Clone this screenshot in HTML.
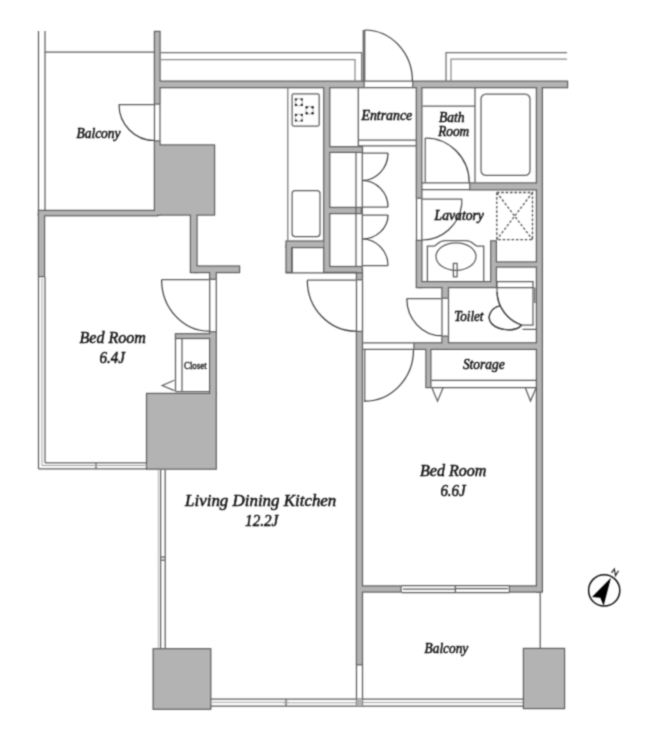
<!DOCTYPE html>
<html><head><meta charset="utf-8"><style>
html,body{margin:0;padding:0;background:#fff;}
svg{display:block;will-change:transform;}

text{font-family:"Liberation Serif",serif;}
.lb{font-style:italic;font-size:15px;fill:#111;stroke:#111;stroke-width:0.55;}
.lg{font-style:italic;font-size:16.5px;fill:#111;stroke:#111;stroke-width:0.5;}
.ln{stroke:#5e5e5e;stroke-width:1.25;fill:none;}
.lt{stroke:#8a8a8a;stroke-width:1;fill:none;}
</style></head><body>
<div class="bl"><svg width="646" height="745" viewBox="0 0 646 745">
<defs><filter id="bf" filterUnits="userSpaceOnUse" x="0" y="0" width="646" height="745" color-interpolation-filters="sRGB"><feConvolveMatrix order="3" kernelMatrix="0.0400 0.1200 0.0400 0.1200 0.3600 0.1200 0.0400 0.1200 0.0400" edgeMode="duplicate" preserveAlpha="false"/></filter>
<g id="W">
<!-- left balcony divider + block -->
<rect x="155" y="32" width="4.5" height="71.5"/>
<rect x="155" y="141.5" width="4.5" height="73"/>
<rect x="158" y="145.5" width="56" height="69"/>
<!-- balcony bottom wall -->
<rect x="39" y="211" width="118" height="4.2"/>
<rect x="39" y="214" width="5" height="62"/>
<!-- mid vertical + horiz -->
<rect x="191" y="214" width="5.5" height="58"/>
<rect x="195" y="266.6" width="44" height="5.4"/>
<rect x="210.2" y="270" width="5.5" height="8.7"/>
<rect x="210.2" y="332.4" width="5.5" height="62"/>
<rect x="176" y="334.3" width="36" height="3.6"/>
<rect x="147.1" y="394" width="68.6" height="74.6"/>
<rect x="153.7" y="649.3" width="56.5" height="59.4"/>
<!-- top wall -->
<rect x="159" y="81.7" width="204.5" height="5.4"/>
<rect x="413.4" y="81.7" width="153.6" height="5.4"/>
<!-- kitchen/closet vertical -->
<rect x="324.3" y="86" width="4.9" height="185.8"/>
<rect x="329" y="147.3" width="32.9" height="4.5"/>
<rect x="329" y="208" width="31.7" height="5"/>
<rect x="329" y="267.1" width="32.6" height="4.7"/>
<!-- U near kitchen -->
<rect x="286.6" y="241.6" width="37" height="5.4"/>
<rect x="286.6" y="246" width="4.5" height="25.8"/>
<!-- LDK right wall -->
<rect x="357" y="270" width="4.9" height="9.2"/>
<rect x="357" y="332" width="4.9" height="332.2"/>
<!-- bed2 top wall (toilet/storage bottom) -->
<rect x="414.5" y="343.4" width="124" height="5.4"/>
<rect x="426.5" y="347" width="3.8" height="40"/>
<!-- right wall -->
<rect x="537" y="86" width="4.8" height="505.5"/>
<!-- bed2 bottom wall -->
<rect x="361" y="586.5" width="39.5" height="5"/>
<rect x="510" y="586.5" width="28" height="5"/>
<rect x="524" y="649" width="40" height="59"/>
<!-- entrance right / lavatory left -->
<rect x="416.9" y="86" width="4.4" height="111.6"/>
<rect x="416.9" y="241" width="4.4" height="46"/>
<!-- bath bottom -->
<rect x="470.4" y="183.5" width="67.5" height="5.8"/>
<!-- lavatory bottom -->
<rect x="419" y="282.2" width="76.8" height="4.8"/>
<rect x="491.3" y="241.4" width="4.5" height="45"/>
<rect x="494" y="262.5" width="44" height="4"/>
<!-- toilet left wall -->
<rect x="442.5" y="286" width="5.4" height="11.6"/>
<rect x="442.5" y="336.7" width="5.4" height="8"/>
</g>
</defs>
<g filter="url(#bf)">
<rect x="-5" y="-5" width="656" height="755" fill="#fff"/>
<use href="#W" fill="#b3b3b3" stroke="#5e5e5e" stroke-width="2.4"/>
<use href="#W" fill="#b3b3b3" stroke="none"/>

<!-- ===== thin lines ===== -->
<g class="ln">
<!-- top-left balcony -->
<path d="M38.5 31V211 M45 31V211 M45 52H155"/>
<!-- railing top -->
<path d="M160.5 52.5H361.7V81 M446 81V52.7H567" stroke="#707070"/>
<path d="M160.5 59.5H355V81 M451 81V59.2H567" stroke="#8c8c8c"/>
<!-- balcony door -->
<path d="M119 104.5H154.5"/>
<path d="M154.5 104.5V140.5 M160 104.5V140.5"/>
<!-- entrance door -->
<path d="M363.3 30V81 M364.7 30V81"/>
<path d="M364.5 81H412.4 M364.5 87.5H412.4"/>
<!-- kitchen -->
<path d="M287.8 88V241" stroke="#7a7a7a"/>
<rect x="292.1" y="93.9" width="27.1" height="32.2" rx="1.5"/>
<rect x="292.1" y="190.6" width="27.9" height="46" rx="3"/>
<!-- entrance -->
<path d="M358.3 88V146 M358.3 140H416 M358.3 145.8H416"/>
<!-- closets -->
<path d="M356 153V266 M362.3 153V266"/>
<path d="M362.3 153H388 M362.3 207H388"/>
<path d="M362.3 215H388 M362.3 265.6H388"/>
<!-- U inner box + bottom line -->
<path d="M292.1 248V272.8 M285.6 272.8H361.9"/>
<!-- LDK door -->
<path d="M307.3 280.2H356"/>
<path d="M356.5 280.2V331.5 M362.5 280.2V331.5"/>
<!-- bed1 door -->
<path d="M161.6 279.7H209.5"/>
<path d="M209.7 279.7V332 M216.3 279.7V332"/>
<!-- bed1 closet -->
<path d="M175.5 338.9V391.5 M182 338.9V391.5 M175.5 391.5H210"/>
<path d="M174.4 380.3L162.2 385.5L174.4 390.6"/>
<!-- bed1 windows -->
<path d="M38.5 277V468.8 M45 277V462.8 M38.5 468.8H147 M45 462.8H147 M96 462.8V468.8"/>
<path d="M42 278V465.5H147" stroke="#a0a0a0" stroke-width="1"/>
<!-- LDK left window -->
<path d="M160.6 469.8V648.5 M165.2 469.8V648.5 M160.6 557H165.2 M160.6 560H165.2"/>
<path d="M158.3 470V648" stroke="#b0b0b0" stroke-width="1"/>
<!-- LDK bottom window -->
<path d="M211 699H523.5 M211 706H523.5 M286 699V706"/>
<path d="M212 702.3H289 M283 702.8H356 M363 702.5H523" stroke="#a0a0a0" stroke-width="1"/>
<path d="M356.5 665V706 M362.5 665V706"/>
<!-- bath -->
<path d="M422.6 106H475 M475 88V182.5"/>
<rect x="481" y="94" width="49" height="81.4" rx="5"/>
<path d="M425.2 138V182.5"/>
<path d="M422 182.8H470 M422 189.5H470"/>
<!-- lavatory door -->
<path d="M422.3 199H461.7V205"/>
<path d="M416.5 198.6V241 M421.8 198.6V241"/>
<!-- vanity -->
<path d="M427.4 281.4V246.1H433.6C437 246.1 438 240.5 445 240.5H466C473 240.5 474 246.1 477.5 246.1H483.7V281.4"/>
<ellipse cx="456" cy="256.6" rx="20" ry="13.8"/>
<rect x="453.4" y="263.4" width="3.7" height="13.4"/>
<!-- washer dashed -->
<g stroke-dasharray="2.6 1.8" stroke="#505050" stroke-width="1.3"><rect x="496.8" y="192.5" width="35.7" height="47.1"/><path d="M496.8 192.5L532.5 239.6 M532.5 192.5L496.8 239.6"/></g>
<!-- toilet door -->
<path d="M406.8 298.6H441.5"/>
<path d="M442 298.6V335.7 M448.5 298.6V335.7"/>
<!-- toilet fixture -->
<path d="M496.8 281.6H533.6 M496.8 287.6H533.6"/>
<path d="M497 281.6V292A36 36 0 0 0 521.7 325H533V281.6"/>
<path d="M500.5 305.5C490 308 486 318 492 324C498 330 515 333 521.7 325"/>
<path d="M534.8 287.5V303 M522.5 329.4H536"/>
<!-- bed2 door -->
<path d="M363.2 342.9H413.5 M363.2 349.3H413.5"/>
<path d="M364.7 349.8V401.2"/>
<!-- storage -->
<path d="M431.3 380.3H536 M431.3 387.5H536"/>
<path d="M432 388L437.5 401.2L443 388 M525.4 388L530.5 401L536 388"/>
<!-- bed2 window -->
<path d="M401.5 585.5H509.5 M401.5 592.5H509.5 M455.4 585.5V592.5"/>
<path d="M403 589H455 M456 588.5H508"/>
<!-- balcony 2 -->
<path d="M540.2 592V648"/>
</g>
<!-- door arcs -->
<g fill="none" stroke="#3c3c3c" stroke-width="1.2">
<path d="M119 104.5A35.5 36 0 0 0 154.5 140.5"/>
<path d="M364.7 30A47.7 51 0 0 1 412.4 81"/>
<path d="M388 153A26 27.5 0 0 1 362.3 180.5 M362.3 180.5A26 26.5 0 0 1 388 207"/>
<path d="M388 215A26 24 0 0 1 362.3 239 M362.3 239A26 26.6 0 0 1 388 265.6"/>
<path d="M307.3 280.2A48.7 51 0 0 0 356 331.2"/>
<path d="M161.6 279.7A47.9 51.5 0 0 0 209.5 331.2"/>
<path d="M425.2 138A44 44.5 0 0 1 469.2 182.5"/>
<path d="M461.7 205A40 40.5 0 0 1 422.3 240"/>
<path d="M406.8 298.6A34.7 37 0 0 0 441.5 335.7"/>
<path d="M413.5 349.8A49 51.4 0 0 1 364 401.2"/>
<path d="M497 292A36 36 0 0 0 521.7 325"/>
<path d="M500.5 305.5C490 308 486 318 492 324C498 330 515 333 521.7 325"/>
</g>
<!-- burners -->
<g fill="none" stroke="#999" stroke-width="0.8">
<circle cx="298.85" cy="102.2" r="3.7"/><circle cx="298.85" cy="117.75" r="3.7"/><circle cx="309.6" cy="110.3" r="3.9"/>
</g>
<g fill="#1a1a1a">
<circle cx="295.9" cy="99.4" r="1.15"/><circle cx="301.8" cy="99.4" r="1.15"/><circle cx="295.9" cy="105" r="1.15"/><circle cx="301.8" cy="105" r="1.15"/>
<circle cx="295.9" cy="114.9" r="1.15"/><circle cx="301.8" cy="114.9" r="1.15"/><circle cx="295.9" cy="120.6" r="1.15"/><circle cx="301.8" cy="120.6" r="1.15"/>
<circle cx="306.7" cy="107.3" r="1.2"/><circle cx="312.6" cy="107.3" r="1.2"/><circle cx="306.7" cy="113.3" r="1.2"/><circle cx="312.6" cy="113.3" r="1.2"/>
</g>
<rect x="356.5" y="699" width="6" height="7" fill="#b3b3b3"/>

<!-- compass -->
<circle cx="604.2" cy="590.4" r="15.6" fill="none" stroke="#111" stroke-width="1.5"/>
<path d="M611 577.8L592 597L600.3 597.8L603.6 605.7Z" fill="#000"/>
<path d="M611.5 572.8L614.3 569L615.5 575.6L618.5 570.8" fill="none" stroke="#222" stroke-width="1.2"/>

<!-- labels -->
<text class="lb" x="76.5" y="137.5" textLength="44" lengthAdjust="spacingAndGlyphs">Balcony</text>
<text class="lb" x="361.5" y="120.1" textLength="50.7" lengthAdjust="spacingAndGlyphs">Entrance</text>
<text class="lb" x="439" y="121.9" textLength="25.6" lengthAdjust="spacingAndGlyphs">Bath</text>
<text class="lb" x="438.2" y="135.9" textLength="31" lengthAdjust="spacingAndGlyphs">Room</text>
<text class="lb" x="434.6" y="220.4" textLength="49.3" lengthAdjust="spacingAndGlyphs">Lavatory</text>
<text class="lb" x="454.2" y="321.1" textLength="29.3" lengthAdjust="spacingAndGlyphs">Toilet</text>
<text class="lb" x="462.9" y="369.3" textLength="41.7" lengthAdjust="spacingAndGlyphs">Storage</text>
<text class="lg" x="79.5" y="343" textLength="66.4" lengthAdjust="spacingAndGlyphs">Bed Room</text>
<text class="lg" x="99.5" y="363.2" textLength="25.5" lengthAdjust="spacingAndGlyphs">6.4J</text>
<text x="184" y="369.2" font-size="10" fill="#111" stroke="#111" stroke-width="0.35" textLength="22.6" lengthAdjust="spacingAndGlyphs">Closet</text>
<text class="lg" x="185.1" y="506" textLength="151.2" lengthAdjust="spacingAndGlyphs">Living Dining Kitchen</text>
<text class="lg" x="245.1" y="525.9" textLength="33.2" lengthAdjust="spacingAndGlyphs">12.2J</text>
<text class="lg" x="420" y="475.6" textLength="66.3" lengthAdjust="spacingAndGlyphs">Bed Room</text>
<text class="lg" x="440.4" y="495.7" textLength="25.3" lengthAdjust="spacingAndGlyphs">6.6J</text>
<text class="lb" x="424.6" y="652.6" textLength="43.7" lengthAdjust="spacingAndGlyphs">Balcony</text>
</g>
</svg></div>
</body></html>
